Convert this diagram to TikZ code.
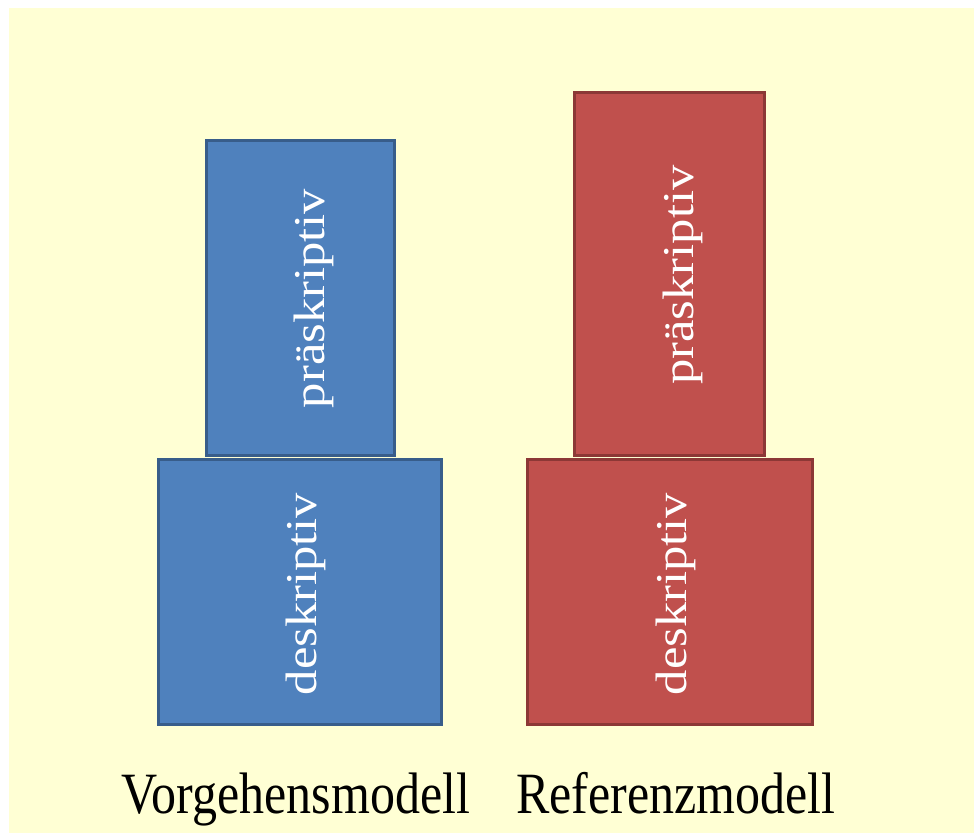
\documentclass[tikz,border=0pt]{standalone}
\usepackage{fontspec}
\setmainfont{Liberation Serif}
\definecolor{bgyellow}{HTML}{FFFFD4}
\definecolor{bluefill}{HTML}{4F81BD}
\definecolor{blueline}{HTML}{385D8A}
\definecolor{redfill}{HTML}{C0504D}
\definecolor{redline}{HTML}{8C3836}
\begin{document}
\begin{tikzpicture}[x=1pt,y=-1pt,
  bluebox/.style={draw=blueline,fill=bluefill,line width=3pt,inner sep=0pt,outer sep=0pt,rectangle},
  redbox/.style={draw=redline,fill=redfill,line width=3pt,inner sep=0pt,outer sep=0pt,rectangle},
  boxtext/.style={text=white,inner sep=0pt,font=\fontsize{44}{52}\selectfont},
  caption/.style={text=black,inner sep=0pt,anchor=base,font=\fontsize{50}{60}\selectfont}]
\fill[white] (0,0) rectangle (974,833);
\fill[bgyellow] (9,8) rectangle (974,833);
\useasboundingbox (0,0) rectangle (974,833);
% blue column
\node[bluebox,minimum width=188pt,minimum height=315pt] (bt) at (300.5,298) {};
\node[bluebox,minimum width=283pt,minimum height=265pt] (bb) at (300,592) {};
% red column
\node[redbox,minimum width=190pt,minimum height=363pt] (rt) at (669.5,274) {};
\node[redbox,minimum width=285pt,minimum height=265pt] (rb) at (670,592) {};
% texts
\node[boxtext] (btt) at (314,298.5) {\rotatebox{90}{\scalebox{1.15}[1]{präskriptiv}}};
\node[boxtext] (bbt) at (306,594) {\rotatebox{90}{\scalebox{1.15}[1]{deskriptiv}}};
\node[boxtext] (rtt) at (683,275) {\rotatebox{90}{\scalebox{1.15}[1]{präskriptiv}}};
\node[boxtext] (rbt) at (676,594) {\rotatebox{90}{\scalebox{1.15}[1]{deskriptiv}}};
\node[caption] (cv) at (296,813) {\scalebox{1}[1.17]{Vorgehensmodell}};
\node[caption] (cr) at (676,813) {\scalebox{1}[1.17]{Referenzmodell}};
\end{tikzpicture}
\end{document}
